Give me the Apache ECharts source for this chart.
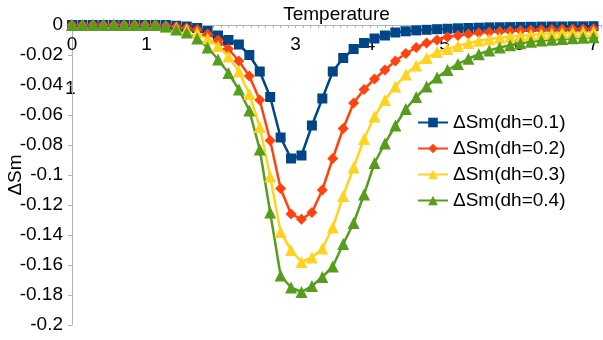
<!DOCTYPE html>
<html>
<head>
<meta charset="utf-8">
<script src="https://cdn.jsdelivr.net/npm/echarts@6/dist/echarts.min.js"></script>
<style>
  html, body { margin: 0; padding: 0; background: #fff; }
  #chart { width: 603px; height: 340px; }
</style>
</head>
<body>
<div id="chart"></div>
<script>
// temperature samples (x)
var temperature = [
  0, 0.14, 0.28, 0.42, 0.56, 0.7, 0.84, 0.98, 1.12, 1.26,
  1.4, 1.54, 1.68, 1.82, 1.96, 2.1, 2.24, 2.38, 2.52, 2.66,
  2.8, 2.94, 3.08, 3.22, 3.36, 3.5, 3.64, 3.78, 3.92, 4.06,
  4.2, 4.34, 4.48, 4.62, 4.76, 4.9, 5.04, 5.18, 5.32, 5.46,
  5.6, 5.74, 5.88, 6.02, 6.16, 6.3, 6.44, 6.58, 6.72, 6.86, 7
];

var dh01 = [
  0, 0, 0, 0, 0, 0, 0, 0, 0, 0,
  -0.0005, -0.001, -0.002, -0.004, -0.007, -0.010, -0.013, -0.020, -0.031, -0.048,
  -0.075, -0.089, -0.087, -0.067, -0.049, -0.031, -0.022, -0.016, -0.012, -0.009,
  -0.007, -0.005, -0.0042, -0.0036, -0.0032, -0.0028, -0.0025, -0.0022, -0.002, -0.0018,
  -0.0016, -0.0015, -0.0014, -0.0013, -0.0012, -0.0011, -0.001, -0.001, -0.0009, -0.0009, -0.0008
];

var dh02 = [
  0, 0, 0, 0, 0, 0, 0, 0, 0, -0.0005,
  -0.001, -0.002, -0.003, -0.006, -0.010, -0.016, -0.024, -0.034, -0.050, -0.077,
  -0.109, -0.126, -0.1295, -0.125, -0.110, -0.089, -0.069, -0.052, -0.043, -0.036,
  -0.030, -0.024, -0.019, -0.015, -0.012, -0.010, -0.008, -0.007, -0.006, -0.0052,
  -0.0047, -0.0043, -0.004, -0.0037, -0.0034, -0.0032, -0.003, -0.0028, -0.0027, -0.0026, -0.0025
];

var dh03 = [
  0, 0, 0, 0, 0, 0, 0, 0, 0, -0.001,
  -0.002, -0.003, -0.005, -0.009, -0.014, -0.021, -0.031, -0.046, -0.068, -0.101,
  -0.138, -0.150, -0.158, -0.155, -0.149, -0.135, -0.114, -0.095, -0.076, -0.061,
  -0.050, -0.041, -0.033, -0.027, -0.022, -0.018, -0.016, -0.014, -0.012, -0.0105,
  -0.0095, -0.0085, -0.0078, -0.0071, -0.0065, -0.006, -0.0056, -0.0052, -0.0049, -0.0046, -0.0044
];

var dh04 = [
  0, 0, 0, 0, 0, 0, 0, 0, 0, -0.001,
  -0.003, -0.005, -0.009, -0.015, -0.023, -0.032, -0.043, -0.057, -0.083, -0.125,
  -0.167, -0.175, -0.178, -0.174, -0.168, -0.161, -0.146, -0.132, -0.113, -0.092,
  -0.079, -0.067, -0.056, -0.048, -0.041, -0.035, -0.030, -0.026, -0.0225, -0.0195,
  -0.017, -0.015, -0.0135, -0.0122, -0.0112, -0.0104, -0.0098, -0.0093, -0.0089, -0.0085, -0.0082
];

var seriesNames = ['ΔSm(dh=0.1)', 'ΔSm(dh=0.2)', 'ΔSm(dh=0.3)', 'ΔSm(dh=0.4)'];
var seriesColors = ['#004586', '#ff420e', '#ffd320', '#579d1c'];

function pairs(ys) {
  return ys.map(function (y, i) { return [temperature[i], y]; });
}

var myChart = echarts.init(document.getElementById('chart'));
var font = 'Liberation Sans, Arial, sans-serif';
var axisGray = '#b3b3b3';

var option = {
  animation: false,
  backgroundColor: '#fff',
  textStyle: { fontFamily: font },
  grid: { left: 72, top: 25, right: 2, bottom: 15, containLabel: false, outerBoundsMode: 'none' },
  legend: {
    orient: 'vertical',
    left: 412,
    top: 108,
    itemWidth: 30,
    itemHeight: 12,
    itemGap: 7,
    textStyle: { fontSize: 19, color: '#000', fontFamily: font },
    data: seriesNames
  },
  xAxis: {
    type: 'value',
    position: 'top',
    min: 0,
    max: 7.1,
    interval: 1,
    name: 'Temperature',
    nameLocation: 'middle',
    nameGap: 1,
    nameMoveOverlap: false,
    nameTextStyle: { fontSize: 19, color: '#000' },
    axisLine: { onZero: false, lineStyle: { color: axisGray, width: 1 } },
    axisTick: { show: true, inside: true, length: 3, lineStyle: { color: axisGray } },
    minorTick: { show: true, splitNumber: 10, length: 3, lineStyle: { color: axisGray } },
    splitLine: { show: false },
    axisLabel: {
      inside: true,
      margin: 10,
      fontSize: 19,
      color: '#000',
      formatter: function (v) { return Number.isInteger(v) ? String(v) : ''; }
    }
  },
  yAxis: {
    type: 'value',
    min: -0.2,
    max: 0,
    interval: 0.02,
    name: 'ΔSm',
    nameLocation: 'middle',
    nameGap: 47,
    nameMoveOverlap: false,
    nameTextStyle: { fontSize: 19, color: '#000' },
    axisLine: { show: true, lineStyle: { color: axisGray } },
    axisTick: { show: true, length: 4, lineStyle: { color: axisGray } },
    splitLine: { show: false },
    axisLabel: {
      margin: 9,
      fontSize: 19,
      color: '#000',
      formatter: function (v) { return String(parseFloat(v.toFixed(2))); }
    }
  },
  graphic: [{
    type: 'text',
    left: 65,
    top: 79,
    style: { text: '1', font: '19px ' + font, fill: '#000' }
  }],
  series: [
    { name: seriesNames[0], type: 'line', data: pairs(dh01), symbol: 'rect', symbolSize: 10 },
    { name: seriesNames[1], type: 'line', data: pairs(dh02), symbol: 'diamond', symbolSize: 11 },
    { name: seriesNames[2], type: 'line', data: pairs(dh03), symbol: 'triangle', symbolSize: 12 },
    { name: seriesNames[3], type: 'line', data: pairs(dh04), symbol: 'triangle', symbolSize: 12 }
  ].map(function (s, i) {
    s.color = seriesColors[i];
    s.lineStyle = { width: 2.5, color: seriesColors[i] };
    s.itemStyle = { color: seriesColors[i] };
    s.showAllSymbol = true;
    return s;
  })
};

myChart.setOption(option);
</script>
</body>
</html>
